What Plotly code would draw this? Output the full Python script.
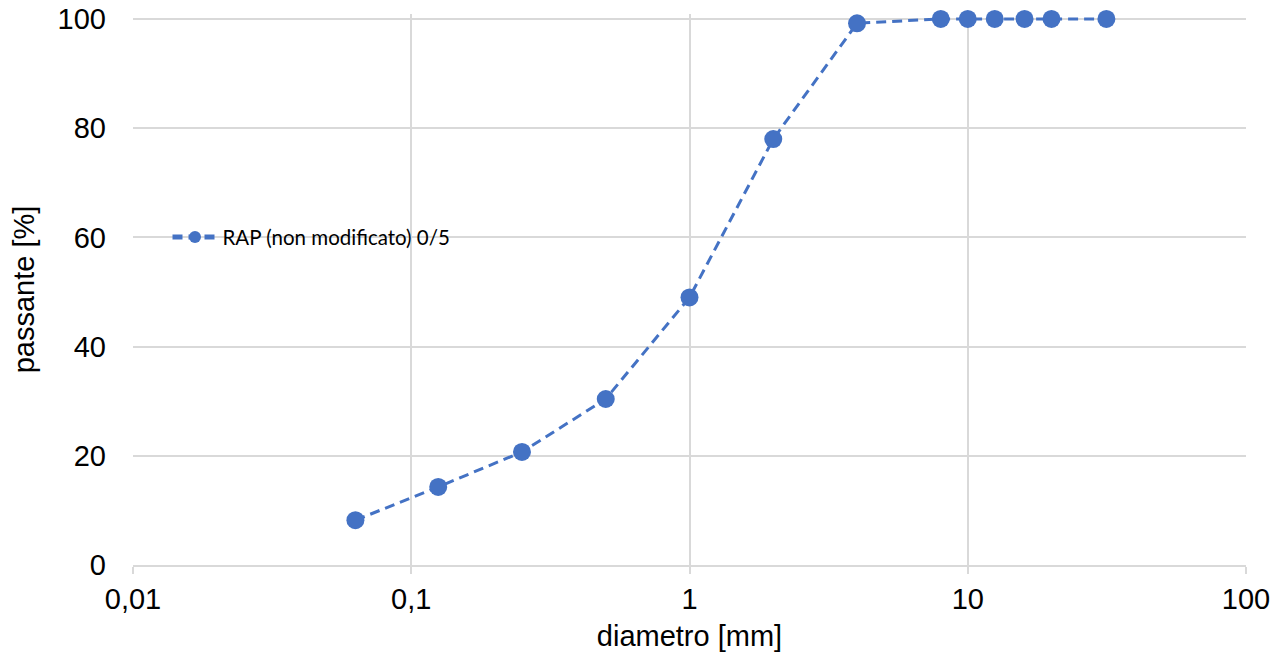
import plotly.graph_objects as go

diametro = [0.063, 0.125, 0.25, 0.5, 1, 2, 4, 8, 10, 12.5, 16, 20, 31.5]
passante = [8.2, 14.3, 20.7, 30.4, 49.0, 78.0, 99.2, 100, 100, 100, 100, 100, 100]
serie_nome = "RAP (non modificato) 0/5"
x_tickvals = [0.01, 0.1, 1, 10, 100]
x_ticktext = ["0,01", "0,1", "1", "10", "100"]
y_tickvals = [0, 20, 40, 60, 80, 100]

BLUE = "#4472C4"
GRID = "#d9d9d9"
FONT = "Liberation Sans, Arial, sans-serif"
FS = 29

fig = go.Figure()
fig.add_trace(go.Scatter(
    x=diametro, y=passante, name=serie_nome, mode="lines+markers",
    line=dict(color=BLUE, width=3, dash="10px,6px"),
    marker=dict(color=BLUE, size=18),
    cliponaxis=False,
    showlegend=True,
))

fig.update_layout(
    width=1283, height=659,
    margin=dict(l=133, r=37, t=14, b=94),
    paper_bgcolor="white", plot_bgcolor="white",
    font=dict(family=FONT, size=FS, color="#000000"),
    showlegend=True,
    legend=dict(
        x=0.031, y=0.595, xanchor="left", yanchor="middle",
        bgcolor="rgba(0,0,0,0)",
        font=dict(family="Lato, sans-serif", size=20.5, color="#000000"),
        itemsizing="constant", itemwidth=45,
    ),
    xaxis=dict(
        type="log", range=[-2, 2], automargin=False,
        tickvals=x_tickvals, ticktext=x_ticktext,
        showgrid=True, gridcolor=GRID, gridwidth=1.5,
        ticks="outside", ticklen=7, tickcolor=GRID, tickwidth=1.5,
        showline=True, linecolor=GRID, linewidth=1.5,
        zeroline=False,
        title=dict(text="diametro [mm]", font=dict(size=FS), standoff=12),
        tickfont=dict(size=FS),
    ),
    yaxis=dict(
        range=[0, 100.9], tickvals=y_tickvals, automargin=False,
        showgrid=True, gridcolor=GRID, gridwidth=1.5,
        ticks="", showline=False, zeroline=False,
        ticklabelstandoff=26,
        title=dict(text="passante [%]", font=dict(size=FS), standoff=14),
        tickfont=dict(size=FS),
    ),
)

fig.write_html("out.html")
